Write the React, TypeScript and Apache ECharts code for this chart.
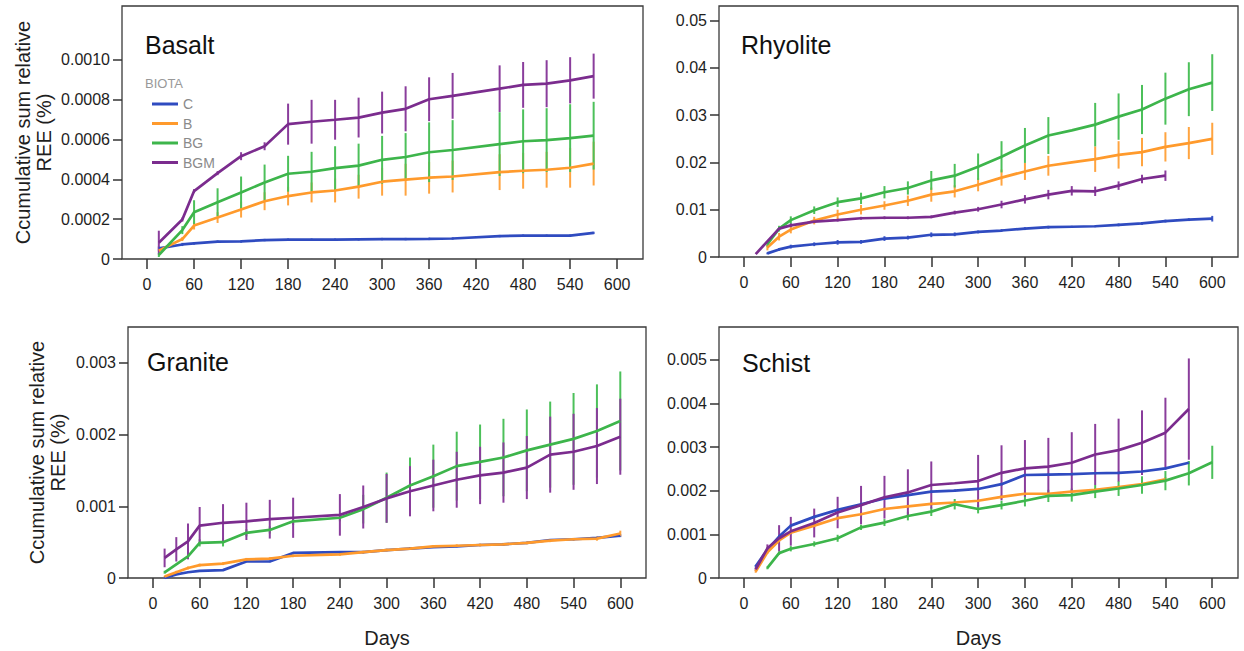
import React, { useEffect, useRef } from 'react';
import * as echarts from 'echarts';

// ---------- data ----------
const xTicks = [0, 60, 120, 180, 240, 300, 360, 420, 480, 540, 600];
const biota = ['C', 'B', 'BG', 'BGM'];

// Basalt
const basaltDays = [15, 45, 60, 90, 120, 150, 180, 210, 240, 270, 300, 330, 360, 390, 450, 480, 510, 540, 570];
const basaltC = [0.000053, 0.000073, 0.000078, 0.000087, 0.000088, 0.000095, 0.000097, 0.000097, 0.000097, 0.0000985, 0.0001, 0.0001, 0.000101, 0.000103, 0.000115, 0.000117, 0.000117, 0.000117, 0.000131];
const basaltCErr = [0.00001, 0.000008, 0.000006, 0.000006, 0.000006, 0.000006, 0.000006, 0.000006, 0.000006, 0.000006, 0.000006, 0.000006, 0.000006, 0.000006, 0.000006, 0.000006, 0.000006, 0.000006, 0.000006];
const basaltB = [0.000042, 0.0001, 0.000168, 0.000208, 0.000248, 0.00029, 0.000316, 0.000334, 0.000344, 0.000363, 0.000388, 0.000398, 0.000408, 0.000414, 0.000436, 0.000443, 0.000448, 0.000458, 0.000479];
const basaltBErr = [0.000005, 0.00001, 0.00002, 0.000027, 0.00004, 0.000045, 0.000047, 0.00005, 0.00006, 0.00006, 0.00007, 0.00008, 0.00008, 0.00008, 0.00009, 0.00009, 0.00009, 0.0001, 0.00011];
const basaltBG = [0.00002, 0.000145, 0.000235, 0.000285, 0.000334, 0.000384, 0.000428, 0.000438, 0.000456, 0.000469, 0.000498, 0.000512, 0.000536, 0.000547, 0.000577, 0.000591, 0.000597, 0.000607, 0.000619];
const basaltBGErr = [0.00001, 0.00002, 0.00006, 0.00007, 0.00008, 0.00009, 0.00009, 0.0001, 0.00011, 0.00011, 0.00012, 0.00012, 0.00015, 0.00015, 0.00016, 0.00016, 0.00016, 0.00017, 0.00017];
const basaltBGM = [0.000082, 0.000198, 0.000341, 0.000431, 0.000516, 0.000566, 0.000677, 0.000689, 0.000699, 0.00071, 0.000735, 0.000754, 0.000802, 0.000819, 0.000855, 0.000874, 0.00088, 0.000897, 0.000918];
const basaltBGMErr = [0.00006, 0.00001, 0.00001, 0.00001, 0.00002, 0.00002, 0.000103, 0.00011, 0.0001, 0.0001, 0.000105, 0.000113, 0.00011, 0.000115, 0.000117, 0.000115, 0.000118, 0.000116, 0.000113];

// Rhyolite
const rhyDays = [15, 30, 45, 60, 90, 120, 150, 180, 210, 240, 270, 300, 330, 360, 390, 420, 450, 480, 510, 540, 570, 600];
const rhyC = [null, 0.00077, 0.0016, 0.0022, 0.0027, 0.0031, 0.0032, 0.0039, 0.0041, 0.0047, 0.0048, 0.0053, 0.0056, 0.006, 0.0063, 0.0064, 0.0065, 0.0068, 0.0071, 0.0076, 0.0079, 0.0081];
const rhyCErr = [null, 0.0002, 0.0003, 0.0004, 0.0004, 0.0005, 0.0004, 0.0005, 0.0004, 0.0005, 0.0004, 0.0003, 0.0003, 0.0003, 0.0003, 0.0002, 0.0002, 0.0003, 0.0003, 0.0003, 0.0003, 0.0006];
const rhyB = [null, 0.002, 0.0043, 0.0058, 0.0077, 0.009, 0.01, 0.0109, 0.0119, 0.0132, 0.0139, 0.0153, 0.0168, 0.0181, 0.0193, 0.02, 0.0207, 0.0216, 0.0222, 0.0233, 0.0241, 0.025];
const rhyBErr = [null, 0.0006, 0.0008, 0.0008, 0.0008, 0.001, 0.001, 0.0009, 0.0011, 0.0015, 0.0013, 0.0014, 0.0017, 0.0018, 0.0021, 0, 0.0027, 0.0029, 0.003, 0.0031, 0.0034, 0.0034];
const rhyBG = [null, 0.0027, 0.006, 0.0078, 0.0099, 0.0116, 0.0124, 0.0137, 0.0146, 0.0162, 0.0172, 0.0191, 0.0212, 0.0236, 0.0257, 0.0268, 0.028, 0.0297, 0.0312, 0.0335, 0.0355, 0.0369];
const rhyBGErr = [null, 0.0005, 0.0006, 0.0008, 0.0008, 0.001, 0.0012, 0.0013, 0.0014, 0.002, 0.0025, 0.0028, 0.0033, 0.0037, 0.0039, 0, 0.0046, 0.0049, 0.0052, 0.0055, 0.0057, 0.006];
const rhyBGM = [0.0006, null, 0.006, 0.0067, 0.0075, 0.0078, 0.0082, 0.0083, 0.0083, 0.0085, 0.0094, 0.0101, 0.0111, 0.0122, 0.0132, 0.014, 0.0139, 0.0151, 0.0165, 0.0172, null, null];
const rhyBGMErr = [0, null, 0.0003, 0.0004, 0.0003, 0.0003, 0.0003, 0.0003, 0.0003, 0.0003, 0.0004, 0.0005, 0.0008, 0.0009, 0.001, 0.001, 0.001, 0.0009, 0.0009, 0.0011, null, null];

// Granite
const graDays = [15, 30, 45, 60, 90, 120, 150, 180, 240, 270, 300, 330, 360, 390, 420, 450, 480, 510, 540, 570, 600];
const graC = [0, 0.00005, 0.00008, 0.0001, 0.00011, 0.00023, 0.00023, 0.00035, 0.00036, 0.00036, 0.00039, 0.00041, 0.00043, 0.00044, 0.00046, 0.00047, 0.00049, 0.00053, 0.00054, 0.00056, 0.00059];
const graCErr = [0.00001, 0.00001, 0.00001, 0.00001, 0.00001, 0.00001, 0.00001, 0.00001, 0.00001, 0.00001, 0.00001, 0.00001, 0.00001, 0.00001, 0.00001, 0.00001, 0.00001, 0.00001, 0.00001, 0.00001, 0.00002];
const graB = [0.00002, 0.00008, 0.00014, 0.00018, 0.0002, 0.00026, 0.00027, 0.00031, 0.00033, 0.00036, 0.00039, 0.00041, 0.00044, 0.00045, 0.00046, 0.00047, 0.00049, 0.00052, 0.00054, 0.00055, 0.00062];
const graBErr = [0.00001, 0.00002, 0.00002, 0.00002, 0.00002, 0.00002, 0.00002, 0.00002, 0.00002, 0.00002, 0.00002, 0.00002, 0.00002, 0.00002, 0.00002, 0.00002, 0.00002, 0.00002, 0.00002, 0.00003, 0.00004];
const graBG = [0.00008, null, 0.0003, 0.00049, 0.0005, 0.00063, 0.00067, 0.00079, 0.00084, 0.00096, 0.00112, 0.00129, 0.00142, 0.00156, 0.00162, 0.00168, 0.00178, 0.00186, 0.00194, 0.00205, 0.00219];
const graBGErr = [0.00002, null, 0.00003, 0.00005, 0.00006, 0.00005, 0.00005, 0.00005, 0.00005, 0.0002, 0.00035, 0.00039, 0.00044, 0.00048, 0.00052, 0.00054, 0.00057, 0.0006, 0.00064, 0.00065, 0.00069];
const graBGM = [0.00028, 0.0004, 0.00051, 0.00073, 0.00077, 0.00079, 0.00082, 0.00084, 0.00088, 0.00099, 0.00111, 0.00121, 0.00129, 0.00137, 0.00143, 0.00147, 0.00154, 0.00172, 0.00176, 0.00184, 0.00197];
const graBGMErr = [0.00013, 0.00017, 0.00025, 0.00026, 0.00026, 0.00026, 0.00027, 0.00028, 0.00029, 0.0003, 0.00034, 0.00035, 0.00036, 0.00039, 0.0004, 0.00042, 0.00044, 0.00053, 0.00053, 0.00053, 0.00053];

// Schist
const schDays = [15, 30, 45, 60, 90, 120, 150, 180, 210, 240, 270, 300, 330, 360, 390, 420, 450, 480, 510, 540, 570, 600];
const schC = [0.00027, 0.00065, 0.00095, 0.0012, 0.0014, 0.00156, 0.00169, 0.00182, 0.0019, 0.00198, 0.002, 0.00204, 0.00215, 0.00236, 0.00237, 0.00238, 0.0024, 0.00241, 0.00244, 0.00251, 0.00264, null];
const schCErr = [0.00003, 0.00003, 0.00003, 0.00003, 0.00003, 0.00003, 0.00003, 0.00003, 0.00003, 0.00003, 0.00003, 0.00003, 0.00003, 0.00003, 0.00003, 0.00003, 0.00003, 0.00003, 0.00003, 0.00003, 0.00003, null];
const schB = [0.00015, 0.00059, 0.00086, 0.00104, 0.0012, 0.00137, 0.00146, 0.00158, 0.00164, 0.0017, 0.00173, 0.00177, 0.00186, 0.00193, 0.00193, 0.00198, 0.00202, 0.00208, 0.00215, 0.00226, null, null];
const schBErr = [0.00003, 0.00004, 0.00004, 0.00004, 0.00004, 0.00004, 0.00004, 0.00004, 0.00004, 0.00004, 0.00004, 0.00004, 0.00004, 0.00004, 0.00004, 0.00004, 0.00004, 0.00004, 0.00004, 0.00005, null, null];
const schBG = [null, 0.00023, 0.00057, 0.00067, 0.00078, 0.00091, 0.00116, 0.00127, 0.00142, 0.00152, 0.00169, 0.00158, 0.00167, 0.00177, 0.00188, 0.0019, 0.00198, 0.00205, 0.00213, 0.00223, 0.0024, 0.00265];
const schBGErr = [null, 0.00003, 0.00004, 0.00006, 0.00006, 0.00008, 0.00006, 0.00008, 0.0001, 0.0001, 0.00012, 0.0001, 0.0001, 0.00013, 0.00014, 0.00015, 0.00015, 0.00017, 0.0002, 0.00022, 0.00028, 0.00038];
const schBGM = [0.0002, 0.00068, 0.00091, 0.00107, 0.00126, 0.0015, 0.00167, 0.00185, 0.00196, 0.00213, 0.00217, 0.00222, 0.00241, 0.00251, 0.00255, 0.00264, 0.00283, 0.00293, 0.0031, 0.00333, 0.00387, null];
const schBGMErr = [0.00003, 0.00009, 0.0003, 0.00033, 0.00033, 0.00036, 0.00044, 0.00049, 0.00053, 0.00054, 0, 0.0006, 0.00063, 0.00065, 0.00066, 0.0007, 0.0007, 0.00072, 0.00074, 0.0008, 0.00116, null];

// y tick values per panel
const basaltYTicks = [0, 0.0002, 0.0004, 0.0006, 0.0008, 0.001];
const rhyYTicks = [0, 0.01, 0.02, 0.03, 0.04, 0.05];
const graYTicks = [0, 0.001, 0.002, 0.003];
const schYTicks = [0, 0.001, 0.002, 0.003, 0.004, 0.005];

// ---------- styling / layout ----------
const COLORS: Record<string, string> = { C: '#2F4BC0', B: '#FF9A2C', BG: '#3DB54B', BGM: '#7B2C8E' };
const ERR_COLORS: Record<string, string> = { C: '#3D58C8', B: '#FFA440', BG: '#4CC05A', BGM: '#8A3D9C' };
const FONT = '"Liberation Sans", Arial, Helvetica, sans-serif';
const YNAME = 'Ccumulative sum relative\nREE (%)';

const panels = [
  {
    title: 'Basalt', days: basaltDays,
    vals: [basaltC, basaltB, basaltBG, basaltBGM], errs: [basaltCErr, basaltBErr, basaltBGErr, basaltBGMErr],
    grid: { left: 122, top: 6, width: 521, height: 253 }, yMax: 0.00127, yTicks: basaltYTicks, dec: 4,
    yName: true, xName: false, yNameGap: 68, titlePos: [145, 45],
  },
  {
    title: 'Rhyolite', days: rhyDays,
    vals: [rhyC, rhyB, rhyBG, rhyBGM], errs: [rhyCErr, rhyBErr, rhyBGErr, rhyBGMErr],
    grid: { left: 719, top: 6, width: 519, height: 251 }, yMax: 0.0531, yTicks: rhyYTicks, dec: 2,
    yName: false, xName: false, yNameGap: 0, titlePos: [741, 45],
  },
  {
    title: 'Granite', days: graDays,
    vals: [graC, graB, graBG, graBGM], errs: [graCErr, graBErr, graBGErr, graBGMErr],
    grid: { left: 128, top: 327, width: 518, height: 251 }, yMax: 0.0035, yTicks: graYTicks, dec: 3,
    yName: true, xName: true, yNameGap: 60, titlePos: [147, 362],
  },
  {
    title: 'Schist', days: schDays,
    vals: [schC, schB, schBG, schBGM], errs: [schCErr, schBErr, schBGErr, schBGMErr],
    grid: { left: 719, top: 327, width: 519, height: 251 }, yMax: 0.00575, yTicks: schYTicks, dec: 3,
    yName: false, xName: true, yNameGap: 0, titlePos: [742, 363],
  },
];

function buildOption() {
  const grid: any[] = [];
  const xAxis: any[] = [];
  const yAxis: any[] = [];
  const series: any[] = [];
  const graphic: any[] = [];
  const n = panels.length;

  // data grids (framed)
  panels.forEach((p, i) => {
    grid.push({ ...p.grid, show: true, borderColor: '#3a3a3a', borderWidth: 1.3, backgroundColor: 'transparent' });
    xAxis.push({
      type: 'value', gridIndex: i, min: -32, max: 633,
      axisLine: { show: false }, splitLine: { show: false },
      axisTick: { show: true, length: 10, customValues: xTicks, lineStyle: { color: '#333', width: 1.5 } },
      axisLabel: { customValues: xTicks, margin: 17, fontSize: 16, color: '#1e1e1e', fontFamily: FONT },
      name: p.xName ? 'Days' : '', nameLocation: 'middle', nameGap: 50,
      nameTextStyle: { fontSize: 20, color: '#1e1e1e', fontFamily: FONT },
    });
    yAxis.push({
      type: 'value', gridIndex: i, min: 0, max: p.yMax,
      axisLine: { show: false }, splitLine: { show: false },
      axisTick: { show: false }, axisLabel: { show: false },
      name: p.yName ? YNAME : '', nameLocation: 'middle', nameRotate: 90, nameGap: p.yNameGap,
      nameTextStyle: { fontSize: 20, lineHeight: 21, color: '#1e1e1e', fontFamily: FONT },
    });
  });

  // tick grids: same left/width, spanning 0..top tick value, for the y ticks and labels
  panels.forEach((p, i) => {
    const topTick = p.yTicks[p.yTicks.length - 1];
    const step = p.yTicks[1] - p.yTicks[0];
    const h = (p.grid.height * topTick) / p.yMax;
    grid.push({ left: p.grid.left, width: p.grid.width, top: p.grid.top + p.grid.height - h, height: h, show: false });
    xAxis.push({ type: 'value', gridIndex: n + i, min: 0, max: 1, show: false });
    yAxis.push({
      type: 'value', gridIndex: n + i, min: 0, max: topTick, interval: step,
      axisLine: { show: false }, splitLine: { show: false },
      axisTick: { show: true, length: 9, lineStyle: { color: '#333', width: 1.5 } },
      axisLabel: {
        margin: 12, fontSize: 16, color: '#1e1e1e', fontFamily: FONT,
        formatter: (v: number) => (v === 0 ? '0' : v.toFixed(p.dec)),
      },
    });
  });

  panels.forEach((p, i) => {
    biota.forEach((key, k) => {
      const vals = p.vals[k];
      const errs = p.errs[k];
      const errData: any[] = [];
      const lineData: any[] = [];
      p.days.forEach((d, j) => {
        const v = vals[j];
        if (v === null || v === undefined) return;
        lineData.push([d, v]);
        const e = errs[j];
        if (e) errData.push([d, v - e, v + e]);
      });
      series.push({
        type: 'custom', name: key + ' err', xAxisIndex: i, yAxisIndex: i,
        data: errData, encode: { x: 0, y: [1, 2] }, silent: true,
        renderItem: (_params: any, api: any) => {
          const x = api.value(0);
          const lo = api.coord([x, api.value(1)]);
          const hi = api.coord([x, api.value(2)]);
          return {
            type: 'line',
            shape: { x1: lo[0], y1: lo[1], x2: hi[0], y2: hi[1] },
            style: { stroke: ERR_COLORS[key], lineWidth: 2 },
          };
        },
      });
      series.push({
        type: 'line', name: key, xAxisIndex: i, yAxisIndex: i,
        data: lineData, showSymbol: false, symbol: 'none',
        lineStyle: { color: COLORS[key], width: 2.7 }, itemStyle: { color: COLORS[key] },
      });
    });

    graphic.push({
      type: 'text', x: p.titlePos[0], y: p.titlePos[1],
      style: { text: p.title, fontSize: 25, fontFamily: FONT, fill: '#111', align: 'left', verticalAlign: 'middle' },
    });
  });

  graphic.push({
    type: 'text', x: 145, y: 83,
    style: { text: 'BIOTA', fontSize: 13, fontFamily: FONT, fill: '#999', align: 'left', verticalAlign: 'middle' },
  });

  return {
    animation: false,
    backgroundColor: '#ffffff',
    grid, xAxis, yAxis, series, graphic,
    legend: {
      data: biota, orient: 'vertical', left: 147, top: 91,
      icon: 'rect', itemWidth: 26, itemHeight: 3, itemGap: 3.5,
      textStyle: { color: '#8a8a8a', fontSize: 14, lineHeight: 16, fontFamily: FONT },
      selectedMode: false,
    },
  };
}

export default function App() {
  const ref = useRef<HTMLDivElement>(null);
  useEffect(() => {
    if (!ref.current) return;
    const chart = echarts.init(ref.current, undefined, { renderer: 'svg' });
    chart.setOption(buildOption() as any);
    return () => chart.dispose();
  }, []);
  return (
    <div
      ref={ref}
      style={{ position: 'absolute', left: 0, top: 0, width: 1244, height: 651, background: '#fff' }}
    />
  );
}
